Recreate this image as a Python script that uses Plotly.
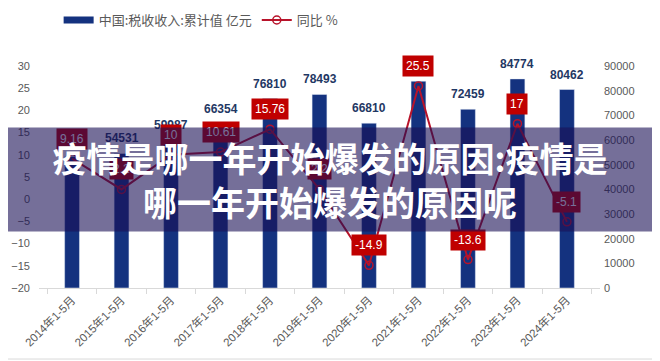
import plotly.graph_objects as go

categories = ["2014年1-5月", "2015年1-5月", "2016年1-5月", "2017年1-5月", "2018年1-5月",
              "2019年1-5月", "2020年1-5月", "2021年1-5月", "2022年1-5月", "2023年1-5月", "2024年1-5月"]
tax_revenue = [53357, 54531, 59987, 66354, 76810, 78493, 66810, 83847, 72459, 84774, 80462]
bar_label_visible = [False, True, True, True, True, True, True, False, True, True, True]
yoy = [9.16, 2.2, 10, 10.61, 15.76, 2.2, -14.9, 25.5, -13.6, 17, -5.1]
yoy_labels = ["9.16", "2.2", "10", "10.61", "15.76", "2.2", "-14.9", "25.5", "-13.6", "17", "-5.1"]

bar_name = "中国:税收收入:累计值 亿元"
line_name = "同比 %"
overlay_text = "疫情是哪一年开始爆发的原因:疫情是<br>哪一年开始爆发的原因呢"

BAR_COLOR = "#14327f"
LINE_RED = "#B8132A"
RED = "#C00000"
GREY = "#595959"
BASE_FONT = "Liberation Sans, Noto Sans CJK SC"

fig = go.Figure()
fig.add_trace(go.Bar(
    x=categories, y=tax_revenue, name=bar_name, marker_color=BAR_COLOR,
    xaxis="x", yaxis="y", hoverinfo="skip", showlegend=False,
))
# legend entry drawn as a wide flat rectangle like the reference
fig.add_trace(go.Scatter(
    x=[None], y=[None], name=bar_name, mode="lines",
    line=dict(color=BAR_COLOR, width=7), xaxis="x", yaxis="y",
))
fig.add_trace(go.Scatter(
    x=categories, y=yoy, name=line_name, mode="lines+markers",
    line=dict(color=LINE_RED, width=2),
    marker=dict(symbol="circle-open", size=8, color=LINE_RED, line=dict(width=1.5)),
    xaxis="x", yaxis="y2", hoverinfo="skip",
))

annotations = []
for c, v, show in zip(categories, tax_revenue, bar_label_visible):
    if show:
        annotations.append(dict(
            x=c, y=v, xref="x", yref="y", text=f"<b>{v}</b>", showarrow=False,
            yanchor="bottom", yshift=6, font=dict(size=12, color="#1F3864", family=BASE_FONT),
        ))
for c, v, t in zip(categories, yoy, yoy_labels):
    annotations.append(dict(
        x=c, y=v, xref="x", yref="y2", text=t, showarrow=False,
        yanchor="middle", yshift=20, bgcolor=RED, borderpad=3,
        font=dict(size=12, color="white", family=BASE_FONT),
    ))
annotations.append(dict(
    x=0.5187, y=0.4887, xref="paper", yref="paper", text=overlay_text, showarrow=False,
    xanchor="center", yanchor="middle", width=720, height=103, valign="middle",
    bgcolor="rgba(25,15,85,0.6)", borderpad=0,
    font=dict(size=34, color="white", family="Noto Sans CJK SC", weight="bold"),
))

fig.update_layout(
    width=660, height=361,
    margin=dict(l=31, r=68, t=58, b=81, autoexpand=False),
    paper_bgcolor="white", plot_bgcolor="white",
    barmode="overlay", bargap=0.7,
    showlegend=True,
    legend=dict(orientation="h", x=0.035, xanchor="left", y=1.207, yanchor="middle",
                font=dict(size=13, color=GREY, family="Noto Sans CJK SC"),
                itemwidth=30, traceorder="normal"),
    xaxis=dict(type="category", showgrid=False, tickangle=-45, automargin=False,
               tickfont=dict(size=11.5, color=GREY, family=BASE_FONT),
               showline=True, linecolor="#D9D9D9", linewidth=1,
               ticks="outside", ticklen=5, tickcolor="#D9D9D9", tickson="boundaries"),
    yaxis=dict(range=[0, 90000], dtick=10000, side="right", showgrid=False, zeroline=False,
               tickformat="d", automargin=False,
               tickfont=dict(size=11, color=GREY, family=BASE_FONT), ticklabelstandoff=3),
    yaxis2=dict(range=[-20, 30], dtick=5, side="left", overlaying="y", showgrid=False,
                zeroline=False, automargin=False, ticklabelstandoff=8,
                tickfont=dict(size=11, color=GREY, family=BASE_FONT)),
    annotations=annotations,
    shapes=[dict(type="line", xref="paper", yref="paper", x0=-0.07, x1=1.11, y0=-0.32, y1=-0.32,
                 line=dict(color="#D9D9D9", width=1))],
)

fig.write_html("out.html")
